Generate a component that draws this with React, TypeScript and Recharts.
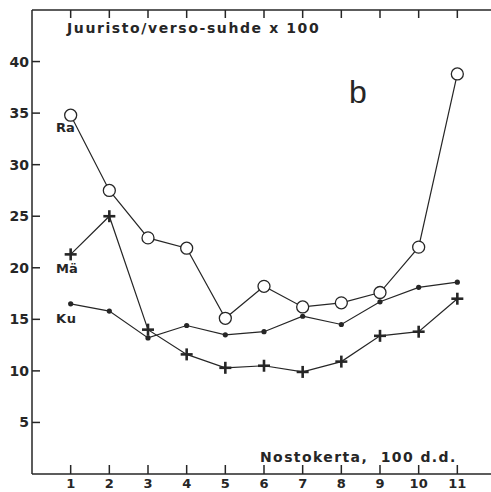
import React from 'react'
import { LineChart, Line, XAxis, YAxis } from 'recharts'

// nostokerta (harvest round), 100 d.d.
const rounds = [1, 2, 3, 4, 5, 6, 7, 8, 9, 10, 11]
const raValues = [34.8, 27.5, 22.9, 21.9, 15.1, 18.2, 16.2, 16.6, 17.6, 22.0, 38.8]
const maValues = [21.3, 25.0, 14.0, 11.6, 10.3, 10.5, 9.9, 10.9, 13.4, 13.8, 17.0]
const kuValues = [16.5, 15.8, 13.2, 14.4, 13.5, 13.8, 15.3, 14.5, 16.7, 18.1, 18.6]
const yTicks = [5, 10, 15, 20, 25, 30, 35, 40]

const data = rounds.map((r, i) => ({ round: r, ra: raValues[i], ma: maValues[i], ku: kuValues[i] }))

const INK = '#262626'
const FONT = '"DejaVu Sans", sans-serif'

const LeftTick = (props: any) => {
  const { x, y, payload } = props
  return (
    <g>
      <line x1={x + 2} x2={x + 10} y1={y} y2={y} stroke={INK} strokeWidth={1.5} />
      <text x={x - 1} y={y} dy={5} textAnchor="end" fontFamily={FONT} fontWeight="bold" fontSize={14} fill={INK}>
        {payload.value}
      </text>
    </g>
  )
}

// right border sits just past the picture edge, only the inner ticks show
const RightTick = (props: any) => {
  const { x, y } = props
  return <line x1={x - 4} x2={x + 10} y1={y} y2={y} stroke={INK} strokeWidth={1.5} />
}

const BottomTick = (props: any) => {
  const { x, y, payload } = props
  return (
    <g>
      <line x1={x} x2={x} y1={y} y2={y - 9} stroke={INK} strokeWidth={1.5} />
      <text x={x} y={y} dy={14} textAnchor="middle" fontFamily={FONT} fontWeight="bold" fontSize={13} fill={INK}>
        {payload.value}
      </text>
    </g>
  )
}

const TopTick = (props: any) => {
  const { x, y } = props
  return <line x1={x} x2={x} y1={y} y2={y + 8} stroke={INK} strokeWidth={1.5} />
}

const OpenCircle = (props: any) => {
  const { cx, cy } = props
  return <circle cx={cx} cy={cy} r={6} fill="#fff" stroke={INK} strokeWidth={1.3} />
}

const Plus = (props: any) => {
  const { cx, cy } = props
  return (
    <g stroke={INK} strokeWidth={2.6}>
      <line x1={cx - 6} x2={cx + 6} y1={cy} y2={cy} />
      <line x1={cx} x2={cx} y1={cy - 6} y2={cy + 6} />
    </g>
  )
}

const SmallDot = (props: any) => {
  const { cx, cy } = props
  return <circle cx={cx} cy={cy} r={2.6} fill={INK} />
}

const label = (left: number, top: number, text: string, extra: React.CSSProperties = {}) => (
  <div
    style={{
      position: 'absolute',
      left,
      top,
      fontFamily: FONT,
      fontWeight: 'bold',
      fontSize: 13,
      color: INK,
      whiteSpace: 'nowrap',
      lineHeight: 1,
      ...extra,
    }}
  >
    {text}
  </div>
)

export default function App() {
  return (
    <div style={{ position: 'absolute', left: 0, top: 0, width: 491, height: 492, overflow: 'hidden', background: '#fff' }}>
      <LineChart width={500} height={492} data={data} margin={{ top: 9, right: 3, bottom: 0, left: 0 }}>
        <XAxis
          xAxisId="bottom"
          dataKey="round"
          type="number"
          domain={[0, 12]}
          ticks={rounds}
          height={18}
          tickSize={0}
          tickMargin={0}
          tick={<BottomTick />}
          axisLine={{ stroke: INK, strokeWidth: 1.5 }}
          tickLine={false}
        />
        <XAxis
          xAxisId="top"
          orientation="top"
          dataKey="round"
          type="number"
          domain={[0, 12]}
          ticks={rounds}
          height={1}
          tickSize={0}
          tickMargin={0}
          tick={<TopTick />}
          axisLine={{ stroke: INK, strokeWidth: 1.5 }}
          tickLine={false}
        />
        <YAxis
          yAxisId="left"
          type="number"
          domain={[0, 45]}
          ticks={yTicks}
          width={32}
          tickSize={0}
          tickMargin={2}
          tick={<LeftTick />}
          axisLine={{ stroke: INK, strokeWidth: 1.5 }}
          tickLine={false}
        />
        <YAxis
          yAxisId="right"
          orientation="right"
          type="number"
          domain={[0, 45]}
          ticks={yTicks}
          width={1}
          tickSize={0}
          tickMargin={0}
          tick={<RightTick />}
          axisLine={false}
          tickLine={false}
        />
        <Line xAxisId="bottom" yAxisId="left" dataKey="ku" stroke={INK} strokeWidth={1.2} dot={<SmallDot />} isAnimationActive={false} />
        <Line xAxisId="bottom" yAxisId="left" dataKey="ma" stroke={INK} strokeWidth={1.2} dot={<Plus />} isAnimationActive={false} />
        <Line xAxisId="bottom" yAxisId="left" dataKey="ra" stroke={INK} strokeWidth={1.2} dot={<OpenCircle />} isAnimationActive={false} />
      </LineChart>
      {label(67, 21, 'Juuristo/verso-suhde x 100', { fontSize: 14, letterSpacing: 1.6 })}
      {label(349, 76, 'b', { fontFamily: '"Liberation Sans", Arial, sans-serif', fontWeight: 'normal', fontSize: 32 })}
      {label(260, 450, 'Nostokerta,  100 d.d.', { fontSize: 14, letterSpacing: 1.4, whiteSpace: 'pre' })}
      {label(56, 121, 'Ra')}
      {label(56, 262, 'Mä')}
      {label(56, 312, 'Ku', { letterSpacing: 1 })}
    </div>
  )
}
